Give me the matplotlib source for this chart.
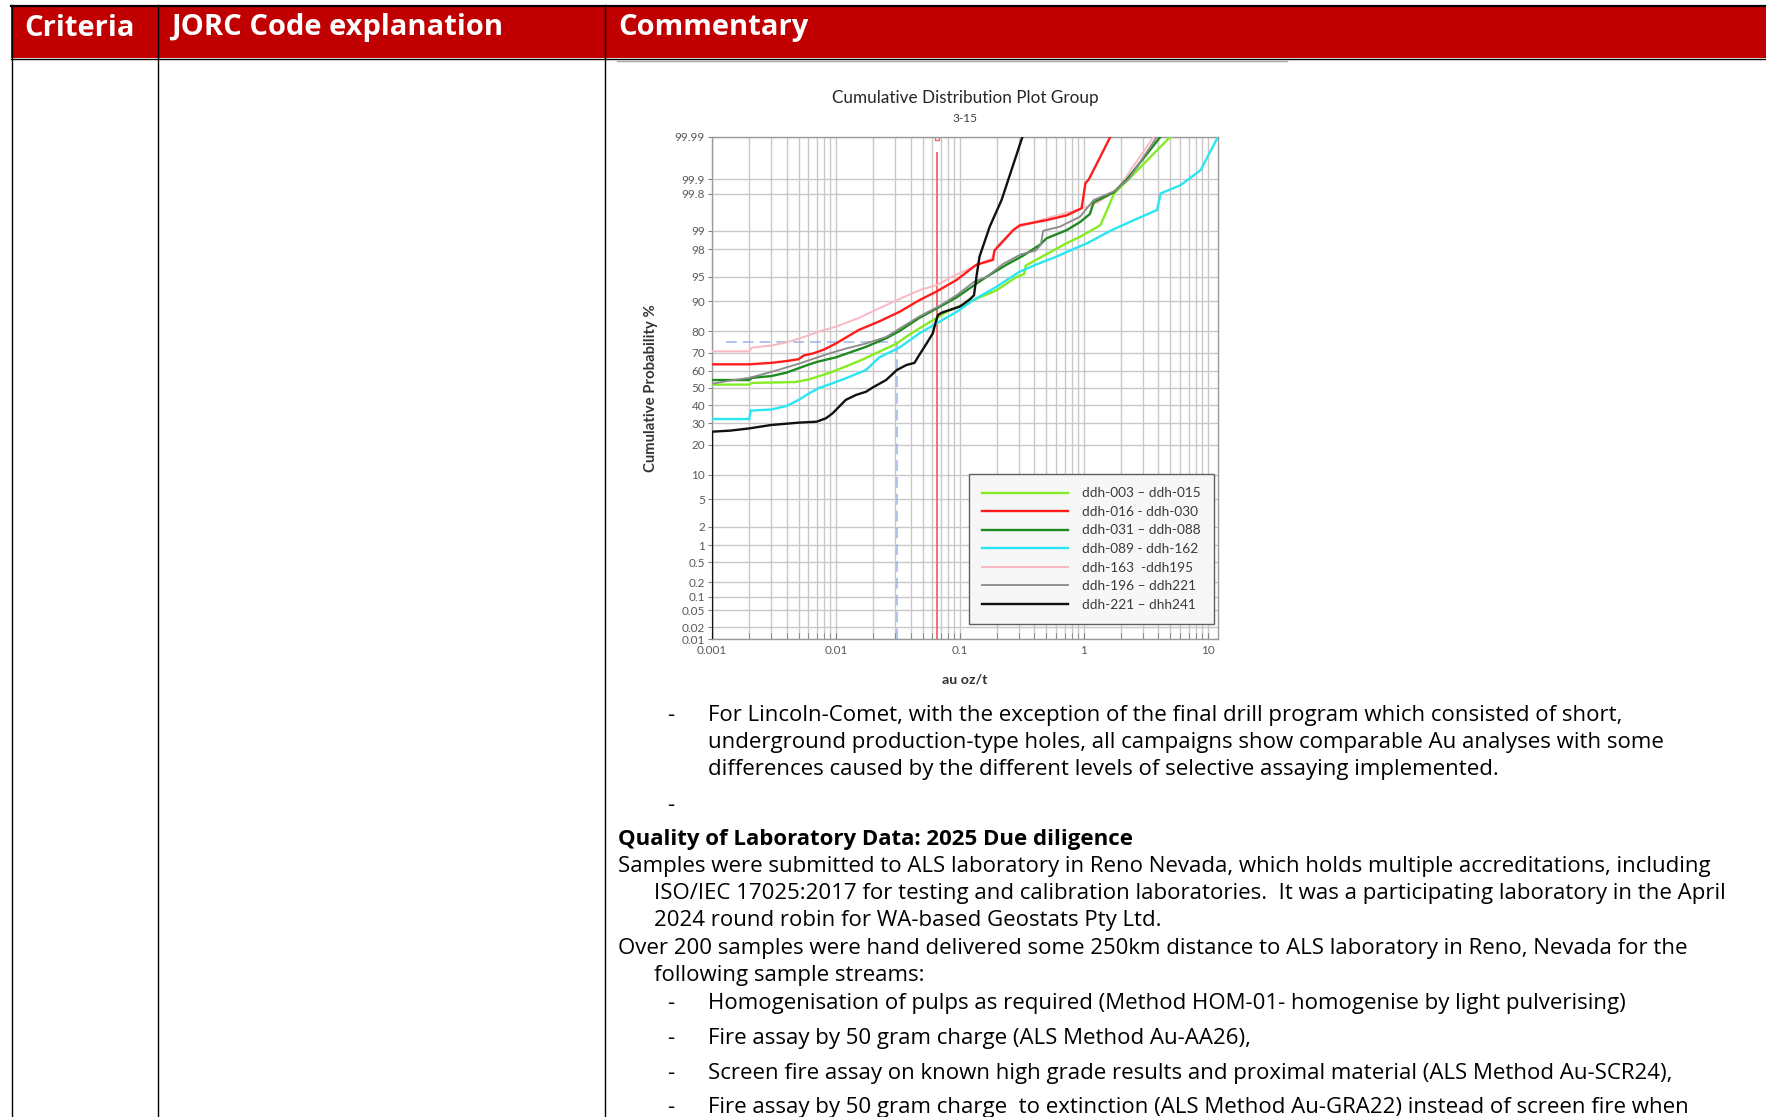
import matplotlib
matplotlib.use("Agg")
import matplotlib.pyplot as plt
import numpy as np
from statistics import NormalDist
from matplotlib.patches import Rectangle
from matplotlib.ticker import LogLocator, NullFormatter, FixedLocator

W, H = 1766, 1117

# ---- chart data (au oz/t, cumulative probability %) ----
lime_x = [0.001, 0.002, 0.0021, 0.0047, 0.006, 0.007, 0.009, 0.012, 0.016, 0.02, 0.031, 0.039,
          0.057, 0.078, 0.12, 0.198, 0.287, 0.33, 0.34, 0.443, 0.73, 0.935, 1.36, 1.64, 1.75, 2.3, 5.0]
lime_p = [52, 52, 53, 53.5, 55, 56.5, 59, 62.5, 66, 69, 74.5, 78.5,
          83.5, 87, 89.9, 92.6, 95.0, 95.4, 96.5, 97.3, 98.4, 98.74, 99.2, 99.7, 99.8, 99.9, 99.99]

red_x = [0.001, 0.002, 0.003, 0.004, 0.005, 0.0055, 0.0065, 0.008, 0.01, 0.0153, 0.0224, 0.0325,
         0.047, 0.0645, 0.094, 0.136, 0.185, 0.19, 0.27, 0.305, 0.5, 0.73, 0.96, 1.03, 1.1, 1.64]
red_p = [63.7, 63.7, 64.5, 65.5, 66.5, 68.5, 69.5, 71.5, 74.5, 80.5, 83.8, 87.0,
         90.3, 92.3, 94.5, 96.6, 97.1, 97.9, 99.03, 99.2, 99.35, 99.47, 99.61, 99.877, 99.9, 99.99]

dgreen_x = [0.001, 0.002, 0.0021, 0.003, 0.004, 0.005, 0.006, 0.007, 0.01, 0.0175, 0.0254, 0.0325,
            0.047, 0.0686, 0.094, 0.12, 0.164, 0.238, 0.325, 0.443, 0.5, 0.73, 0.935, 1.12, 1.2,
            1.74, 2.23, 4.16]
dgreen_p = [54.7, 54.7, 56, 57, 59, 61.5, 63.5, 65, 67.5, 72.9, 76.9, 80,
            85, 88.5, 91, 93, 95, 96.6, 97.5, 98.3, 98.66, 99.03, 99.3, 99.5, 99.7,
            99.81, 99.9, 99.99]

cyan_x = [0.001, 0.002, 0.00205, 0.003, 0.004, 0.005, 0.0061, 0.0073, 0.0094, 0.012, 0.0175,
          0.0224, 0.0325, 0.047, 0.0645, 0.094, 0.128, 0.198, 0.3, 0.41, 0.6, 0.82, 1.07, 1.64,
          2.53, 3.91, 4.16, 6.04, 8.77, 12.1]
cyan_p = [32.3, 32.3, 36.9, 37.5, 39.5, 43, 46.9, 50, 52.8, 55.7, 60.5,
          67.5, 72.5, 79, 83, 87, 90.3, 93.3, 95.7, 96.6, 97.4, 98.0, 98.4, 99.0,
          99.35, 99.58, 99.8, 99.866, 99.937, 99.99]

pink_x = [0.001, 0.002, 0.0021, 0.003, 0.004, 0.0055, 0.0075, 0.01, 0.0153, 0.0224, 0.031, 0.047,
          0.0645, 0.091, 0.13, 0.18, 0.2, 0.28, 0.5, 0.96, 1.3, 1.85, 3.67]
pink_p = [70.6, 70.6, 72.5, 73.5, 75, 77.5, 80, 81.8, 85, 88.1, 90.3, 92.6,
          93.6, 95.2, 96.4, 97.2, 98.2, 99.1, 99.4, 99.6, 99.7, 99.83, 99.99]

gray_x = [0.001, 0.0013, 0.002, 0.00305, 0.005, 0.0083, 0.012, 0.0175, 0.0254, 0.0325, 0.047,
          0.0686, 0.094, 0.13, 0.164, 0.224, 0.31, 0.41, 0.45, 0.47, 0.64, 0.935, 1.2, 1.75, 2.3, 3.9]
gray_p = [52.5, 54, 56, 59.5, 64, 69, 72, 74.5, 77.5, 81, 85.5,
          88.8, 91.5, 94.2, 95, 96.7, 97.6, 97.9, 98.3, 99.0, 99.15, 99.44, 99.73, 99.82, 99.9, 99.99]

black_x = [0.001, 0.001, 0.0014, 0.002, 0.003, 0.005, 0.007, 0.0083, 0.0094, 0.012, 0.0145, 0.0175,
           0.0199, 0.0254, 0.031, 0.037, 0.043, 0.047, 0.054, 0.0605, 0.064, 0.0665, 0.072, 0.1,
           0.12, 0.13, 0.136, 0.144, 0.174, 0.217, 0.32]
black_p = [0.01, 25.9, 26.4, 27.5, 29.2, 30.4, 30.9, 32.7, 35.4, 43, 45.9, 47.8,
           50.4, 54.7, 60.5, 63.3, 64.5, 68.7, 74.6, 79.1, 83.7, 86, 86.8, 88.6,
           90.5, 91.5, 95, 97.4, 99.15, 99.73, 99.99]

labels = ["ddh-003 \u2013 ddh-015", "ddh-016 - ddh-030", "ddh-031 \u2013 ddh-088",
          "ddh-089 - ddh-162", "ddh-163  -ddh195", "ddh-196 \u2013 ddh221", "ddh-221 \u2013 dhh241"]

cutoff_x = 0.031      # blue dashed reference
cutoff_p = 75
red_line_x = 0.065

y_ticks = [0.01, 0.02, 0.05, 0.1, 0.2, 0.5, 1, 2, 5, 10, 20, 30, 40, 50, 60, 70, 80, 90,
           95, 98, 99, 99.8, 99.9, 99.99]
y_tick_labels = ["0.01", "0.02", "0.05", "0.1", "0.2", "0.5", "1", "2", "5", "10", "20", "30",
                 "40", "50", "60", "70", "80", "90", "95", "98", "99", "99.8", "99.9", "99.99"]
x_ticks = [0.001, 0.01, 0.1, 1, 10]
x_tick_labels = ["0.001", "0.01", "0.1", "1", "10"]

# ---- normal probability scale ----
_nd = NormalDist()
_ppf = np.vectorize(_nd.inv_cdf, otypes=[float])
_cdf = np.vectorize(_nd.cdf, otypes=[float])


def prob_forward(p):
    q = np.asarray(p, dtype=float) / 100.0
    q = np.where(np.isfinite(q), q, 0.5)
    q = np.clip(q, 1e-7, 1 - 1e-7)
    return _ppf(q)


def prob_inverse(z):
    z = np.asarray(z, dtype=float)
    z = np.where(np.isfinite(z), z, 0.0)
    return _cdf(z) * 100.0


plt.rcParams['font.family'] = ['Lato', 'DejaVu Sans']

fig = plt.figure(figsize=(W / 100, H / 100), dpi=100)

# page / table background in pixel coordinates
bg = fig.add_axes([0, 0, 1, 1])
bg.set_xlim(0, W)
bg.set_ylim(H, 0)
bg.axis('off')

bg.add_patch(Rectangle((11, 6), W - 11, 52, facecolor='#C00000', edgecolor='none'))
bg.plot([11, W], [5.5, 5.5], color='black', lw=1.6)
bg.plot([11, W], [58.5, 58.5], color='black', lw=1.0)
for cx in [11.5, 158, 605]:
    bg.plot([cx, cx], [5, H], color='black', lw=1.0)
bg.plot([617, 1287], [60.5, 60.5], color='#a8a8a8', lw=1.0)

hdr = dict(color='white', fontsize=21, fontweight='bold', family=['Open Sans', 'DejaVu Sans'],
           va='baseline', ha='left')
bg.text(24, 35.5, "Criteria", **hdr)
bg.text(171, 35.5, "JORC Code explanation", **hdr)
bg.text(618, 35.5, "Commentary", **hdr)

body = dict(color='black', fontsize=16, family=['Open Sans', 'DejaVu Sans'], va='baseline', ha='left')
bullet_lines = [
    (721, "For Lincoln-Comet, with the exception of the final drill program which consisted of short,", True),
    (748, "underground production-type holes, all campaigns show comparable Au analyses with some", False),
    (775, "differences caused by the different levels of selective assaying implemented.", False),
    (811, "", True),
    (1009, "Homogenisation of pulps as required (Method HOM-01- homogenise by light pulverising)", True),
    (1044, "Fire assay by 50 gram charge (ALS Method Au-AA26),", True),
    (1079, "Screen fire assay on known high grade results and proximal material (ALS Method Au-SCR24),", True),
    (1113, "Fire assay by 50 gram charge  to extinction (ALS Method Au-GRA22) instead of screen fire when", True),
]
for yy, txt, dash in bullet_lines:
    if dash:
        bg.text(667, yy, "-", **body)
    if txt:
        bg.text(708, yy, txt, **body)

bg.text(618, 845, "Quality of Laboratory Data: 2025 Due diligence", fontweight='bold', **body)
para_lines = [
    (618, 872, "Samples were submitted to ALS laboratory in Reno Nevada, which holds multiple accreditations, including"),
    (654, 899, "ISO/IEC 17025:2017 for testing and calibration laboratories.  It was a participating laboratory in the April"),
    (654, 926, "2024 round robin for WA-based Geostats Pty Ltd."),
    (618, 954, "Over 200 samples were hand delivered some 250km distance to ALS laboratory in Reno, Nevada for the"),
    (654, 981, "following sample streams:"),
]
for xx, yy, txt in para_lines:
    bg.text(xx, yy, txt, **body)

# chart titles and axis labels
bg.text(965, 98, "Cumulative Distribution Plot Group", ha='center', va='center', fontsize=12.3, color='#262626')
bg.text(965, 119, "3-15", ha='center', va='center', fontsize=8.5, color='#404040')
bg.text(651, 388, "Cumulative Probability %", ha='center', va='center', rotation=90, fontsize=10.7,
        fontweight='bold', color='#333333')
bg.text(965, 679, "au oz/t", ha='center', va='center', fontsize=10.3, fontweight='bold', color='#333333')

# ---- the probability plot ----
ax = fig.add_axes([712 / W, 1 - 639.3 / H, (1218 - 712) / W, (639.3 - 136.7) / H])
ax.set_xscale('log')
ax.set_yscale('function', functions=(prob_forward, prob_inverse))
ax.set_xlim(0.001, 12.1)
ax.set_ylim(0.01, 99.99)

ax.yaxis.set_major_locator(FixedLocator(y_ticks))
ax.set_yticks(y_ticks, y_tick_labels)
ax.yaxis.set_minor_locator(FixedLocator([]))
ax.set_xticks(x_ticks, x_tick_labels)
ax.xaxis.set_minor_locator(LogLocator(base=10, subs=np.arange(2, 10)))
ax.xaxis.set_minor_formatter(NullFormatter())

ax.grid(True, which='both', axis='x', color='#c8c8c8', lw=1.0)
ax.grid(True, which='major', axis='y', color='#c8c8c8', lw=1.0)
ax.set_axisbelow(True)
for sp in ax.spines.values():
    sp.set_color('#9a9a9a')
    sp.set_linewidth(1.0)
ax.tick_params(axis='y', which='major', direction='out', length=3, color='#808080',
               labelsize=8.5, labelcolor='#595959', pad=2)
ax.tick_params(axis='x', which='both', direction='in', length=4, color='#808080',
               labelsize=8.5, labelcolor='#595959', pad=4)

# reference lines
ax.plot([0.0013, cutoff_x], [cutoff_p, cutoff_p], color='#9db4e6', lw=1.1, ls=(0, (7, 4)), zorder=2)
ax.plot([cutoff_x, cutoff_x], [0.01, cutoff_p], color='#9db4e6', lw=1.1, ls=(0, (7, 4)), zorder=2)
ax.plot([red_line_x, red_line_x], [0.01, 99.975], color='#f06464', lw=1.3, zorder=2)
ax.plot([red_line_x], [99.989], marker='s', ms=3, mfc='white', mec='#f06464', mew=1, zorder=2)

series = [
    (lime_x, lime_p, '#84ec22', 1.7, 4),
    (red_x, red_p, '#ff1c1c', 1.7, 6),
    (dgreen_x, dgreen_p, '#1f8a1f', 1.7, 5),
    (cyan_x, cyan_p, '#2ae6f0', 1.7, 4),
    (pink_x, pink_p, '#f8b9c2', 1.4, 3),
    (gray_x, gray_p, '#8a8a8a', 1.3, 5),
    (black_x, black_p, '#111111', 1.7, 7),
]
handles = []
for (xs, ps, col, lw, zo), lab in zip(series, labels):
    h, = ax.plot(xs, ps, color=col, lw=lw, zorder=zo, label=lab, solid_joinstyle='round')
    handles.append(h)

leg = ax.legend(handles=handles, loc='lower right', bbox_to_anchor=(0.992, 0.03), borderaxespad=0,
                fontsize=9.8, handlelength=6.3, handletextpad=1.0, labelspacing=0.48,
                borderpad=1.0, frameon=True, fancybox=False, framealpha=1)
leg.get_frame().set_facecolor('#f7f7f7')
leg.get_frame().set_edgecolor('#606060')
leg.get_frame().set_linewidth(1.0)
for t in leg.get_texts():
    t.set_color('#3a3a3a')

fig.savefig('out.png', dpi=100)
